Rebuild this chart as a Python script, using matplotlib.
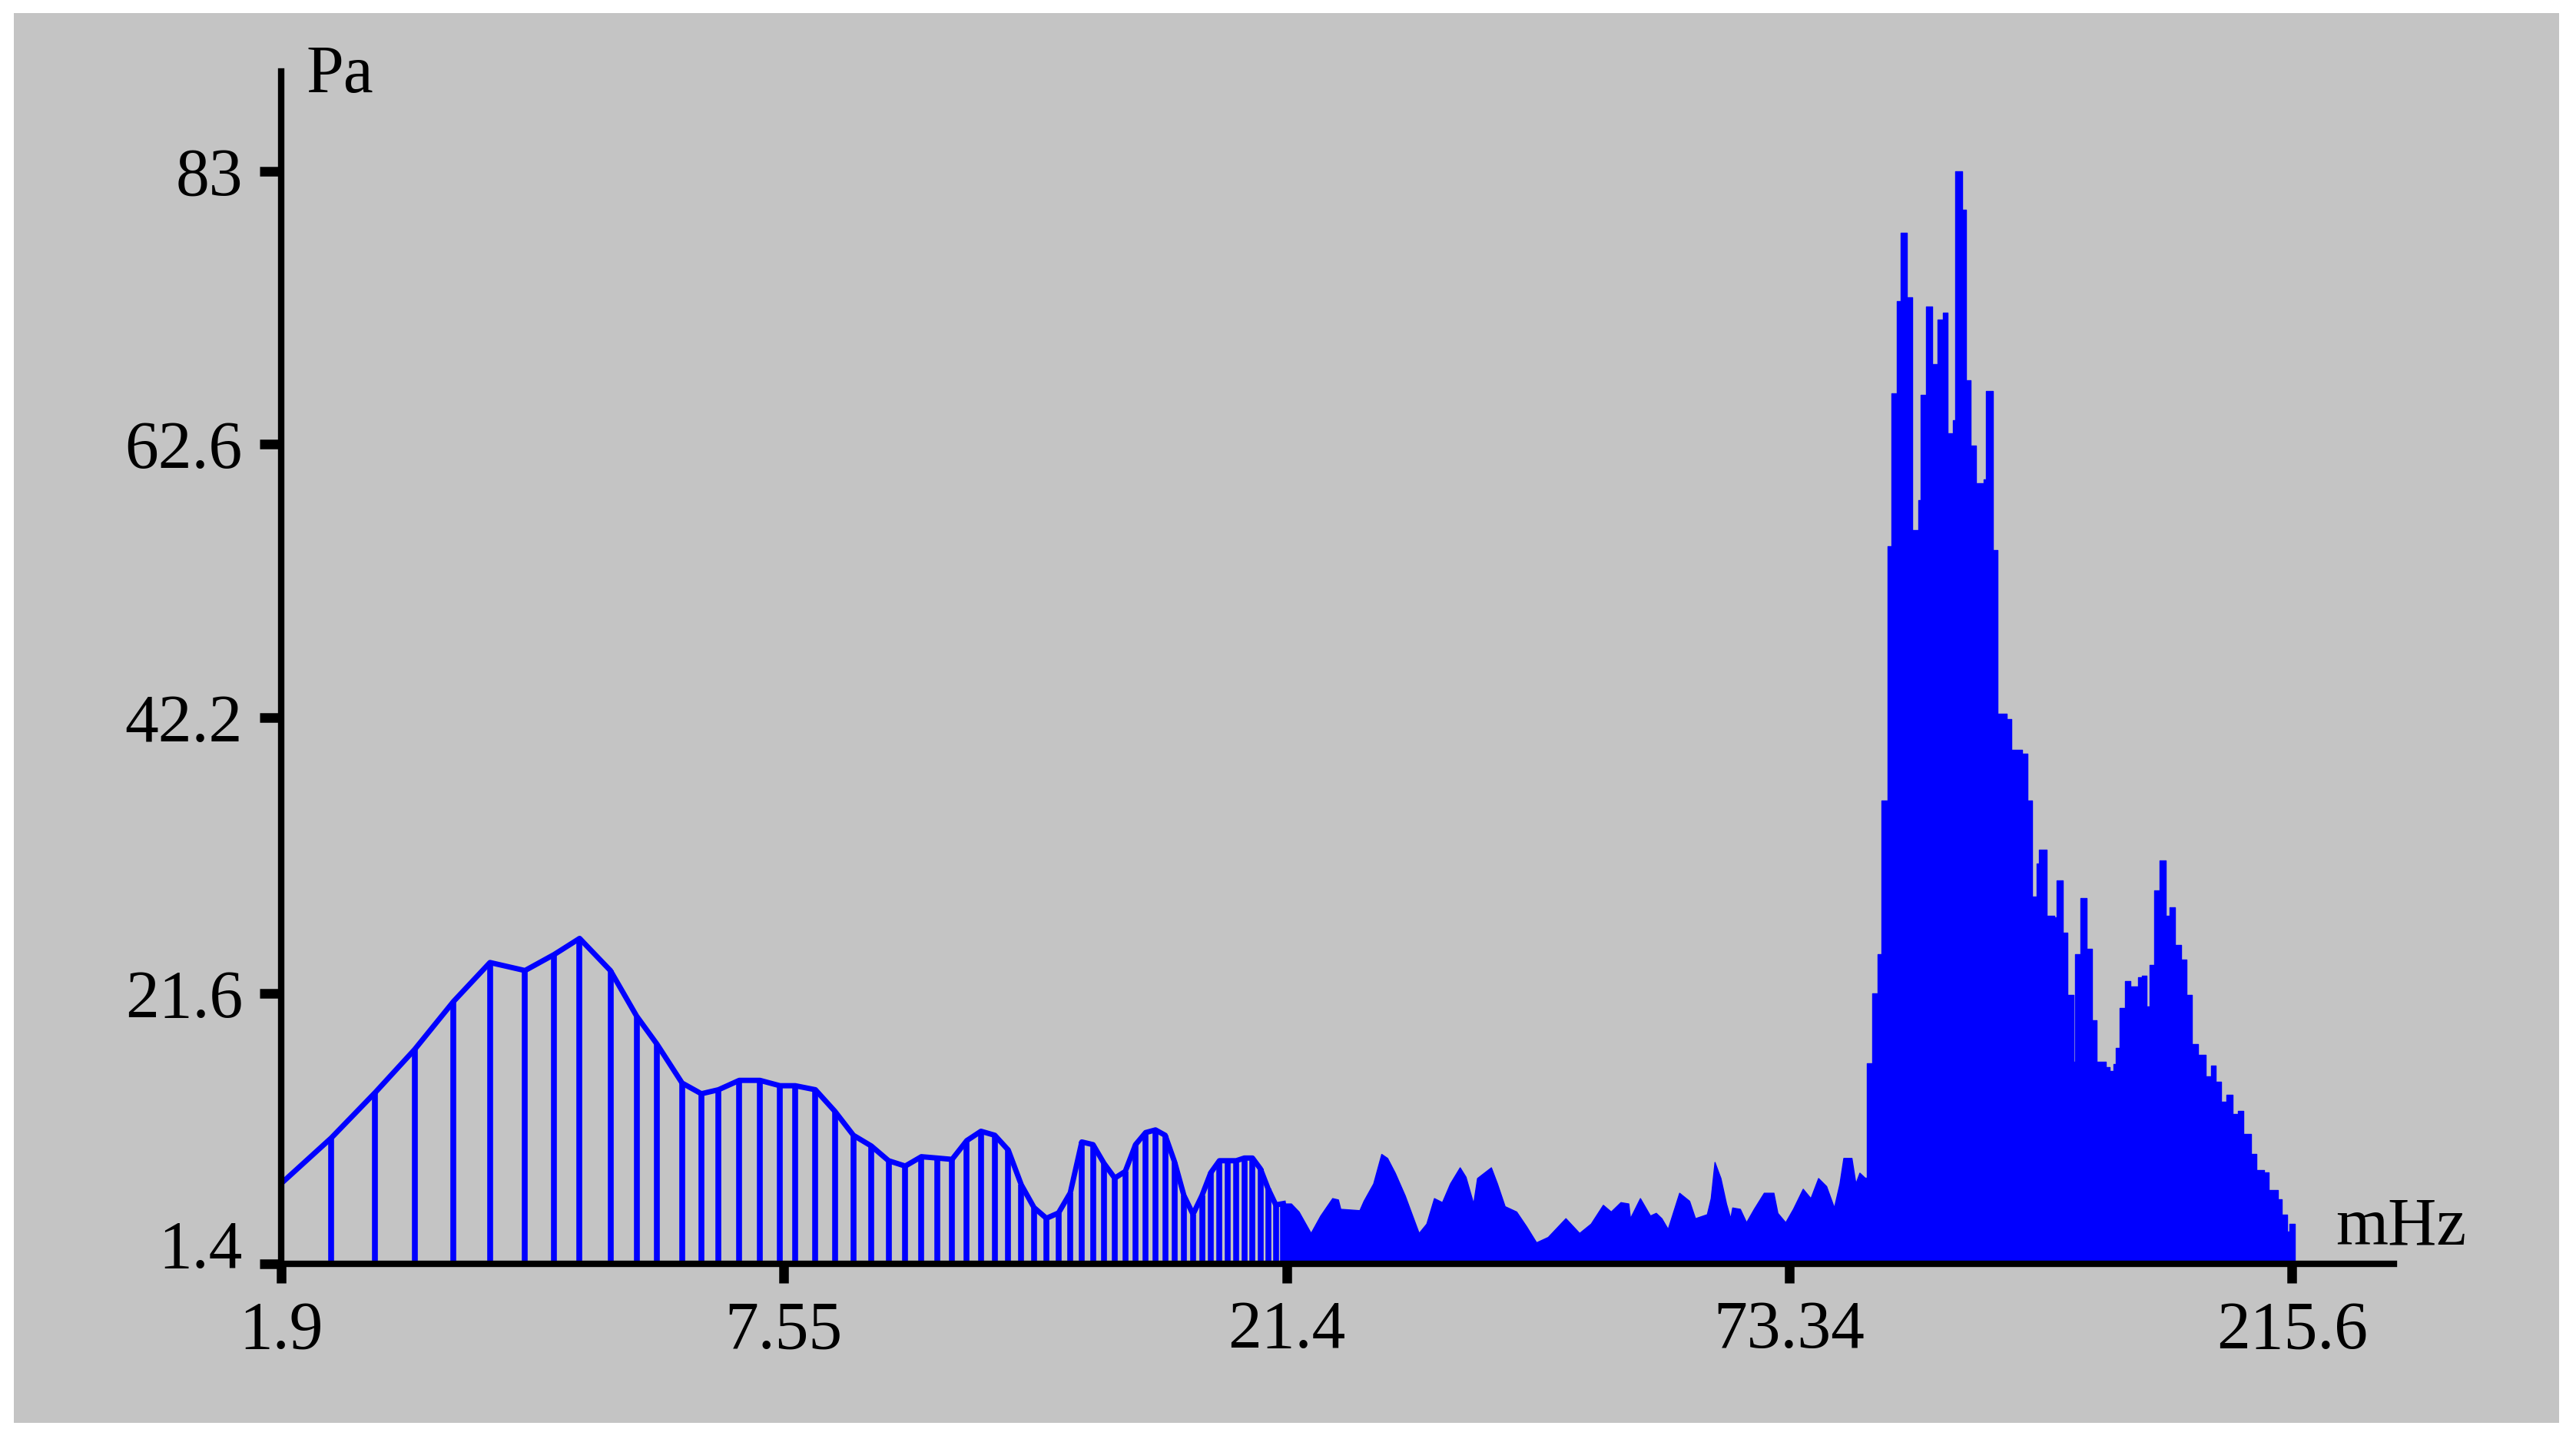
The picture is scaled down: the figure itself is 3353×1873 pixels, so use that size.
import matplotlib.pyplot as plt
import numpy as np
from matplotlib.patches import Rectangle
from matplotlib.transforms import ScaledTranslation

# Axis ticks (frequency in mHz, amplitude in Pa)
x_ticks = [1.9, 7.55, 21.4, 73.34, 215.6]
x_labels = ["1.9", "7.55", "21.4", "73.34", "215.6"]
y_ticks = [1.4, 21.6, 42.2, 62.6, 83]
y_labels = ["1.4", "21.6", "42.2", "62.6", "83"]
baseline = 1.4

# Low band: separate spectral lines (stems), envelope starts at the y axis
start_freq = 1.9
start_amp = 7.4
stem_freq = [2.18, 2.46, 2.74, 3.05, 3.37, 3.71, 4.02, 4.31, 4.69, 5.04, 5.33, 5.71,
             6.02, 6.31, 6.68, 7.07, 7.47, 7.73, 8.06, 8.39, 8.72, 9.05, 9.38, 9.71,
             10.04, 10.37, 10.70, 11.03, 11.36, 11.69, 12.02, 12.35, 12.68, 13.01,
             13.34, 13.67, 14.00, 14.33, 14.66, 14.99, 15.32, 15.65, 15.98, 16.31,
             16.64, 16.97, 17.30, 17.63, 17.96, 18.29, 18.62, 18.95, 19.28, 19.61,
             19.94, 20.27, 20.60, 20.93, 21.26]
stem_amp = [10.8, 14.2, 17.4, 21.0, 23.9, 23.3, 24.5, 25.7, 23.3, 19.9, 17.8, 14.9,
            14.1, 14.4, 15.1, 15.1, 14.7, 14.7, 14.4, 12.8, 11.0, 10.2, 9.1, 8.7,
            9.4, 9.3, 9.2, 10.6, 11.3, 11.0, 9.9, 7.3, 5.6, 4.8,
            5.2, 6.7, 10.5, 10.3, 8.9, 7.8, 8.3, 10.3, 11.2, 11.4,
            11.0, 9.0, 6.5, 5.1, 6.5, 8.2, 9.1, 9.1, 9.1, 9.3,
            9.3, 8.5, 7.0, 5.8, 5.9]

# Mid band: dense lines, drawn as a filled envelope
mid_freq = [21.26, 21.64, 22.05, 22.71, 23.25, 23.94, 24.28, 24.42, 25.59, 25.85,
            26.47, 27.00, 27.39, 27.91, 28.60, 29.59, 30.15, 30.72, 31.33, 31.95,
            32.72, 33.19, 33.82, 34.14, 35.32, 35.85, 36.53, 37.58, 38.51, 39.46,
            40.60, 42.40, 43.85, 45.11, 46.47, 47.38, 48.52, 49.46, 49.66, 50.89,
            52.16, 52.91, 53.64, 54.47, 56.02, 57.41, 58.24, 59.95, 60.52, 61.09,
            61.99, 62.84, 63.49, 63.80, 65.01, 66.01, 67.26, 68.93, 70.58, 71.27,
            72.66, 73.95, 75.52, 76.78, 78.05, 79.41, 80.74, 81.71, 82.39, 83.84,
            84.56, 85.28, 86.33]
mid_amp = [5.9, 5.9, 5.3, 3.7, 5.0, 6.3, 6.2, 5.5, 5.4, 6.1,
           7.4, 9.6, 9.3, 8.2, 6.5, 3.7, 4.4, 6.3, 6.0, 7.4,
           8.6, 7.9, 5.9, 7.8, 8.6, 7.4, 5.7, 5.3, 4.2, 3.0,
           3.4, 4.8, 3.7, 4.4, 5.8, 5.3, 6.0, 5.9, 4.8, 6.3,
           5.0, 5.2, 4.8, 4.0, 6.7, 6.1, 4.8, 5.1, 6.3, 9.0,
           7.8, 5.9, 4.8, 5.6, 5.5, 4.5, 5.5, 6.7, 6.7, 5.2,
           4.5, 5.5, 7.0, 6.3, 7.8, 7.2, 5.6, 7.4, 9.3, 9.3,
           7.4, 8.2, 7.8]

# High band: main peak, step envelope (level holds until next frequency)
peak_freq = [86.33, 86.70, 87.70, 88.72, 89.43, 90.64, 91.37, 92.43, 93.20, 94.43,
             95.52, 96.79, 97.25, 98.38, 99.68, 100.8, 102.0, 103.0, 104.2, 104.7,
             106.3, 107.2, 108.2, 109.4, 111.3, 111.8, 113.5, 114.6, 116.9, 118.2,
             120.8, 122.2, 123.4, 124.8, 125.4, 127.5, 129.6, 130.1, 131.8, 133.3,
             134.9, 135.5, 137.1, 138.9, 140.5, 141.9, 144.7, 145.9, 147.1, 147.8,
             149.0, 150.8, 152.5, 155.0, 156.3, 157.8, 158.9, 160.5, 162.3, 164.4,
             165.8, 167.7, 169.9, 171.9, 173.9, 176.2, 179.1, 181.2, 183.0, 185.1,
             187.3, 189.7, 192.2, 194.4, 197.6, 199.9, 203.2, 205.2, 209.4, 211.0,
             213.5, 214.6, 217.0]
peak_amp = [7.8, 16.4, 21.6, 24.5, 36.0, 55.0, 66.4, 73.3, 78.4, 73.6,
            56.2, 58.4, 66.3, 72.9, 68.6, 71.9, 72.4, 63.4, 64.4, 83.0,
            80.1, 67.4, 62.5, 59.7, 60.0, 66.6, 54.7, 42.5, 42.1, 39.8,
            39.5, 36.0, 28.8, 31.3, 32.3, 27.4, 27.3, 30.0, 26.1, 21.5,
            16.5, 24.5, 28.7, 24.9, 19.6, 16.5, 16.1, 15.8, 16.3, 17.5,
            20.5, 22.5, 22.1, 22.8, 22.9, 20.6, 23.7, 29.3, 31.5, 27.4,
            28.0, 25.2, 24.1, 21.5, 17.8, 17.0, 15.4, 16.2, 15.0, 13.5,
            14.0, 12.6, 12.8, 11.1, 9.6, 8.4, 8.2, 6.9, 6.2, 5.1,
            3.8, 4.4, 4.4]

blue = "#0000ff"
gray = "#c4c4c4"

# The frequency axis puts the labelled frequencies at equal spacing,
# log-interpolated in between
LT = np.log10(x_ticks)
POS = np.arange(len(x_ticks), dtype=float)


def fwd(f):
    lf = np.log10(np.maximum(np.asarray(f, dtype=float), 1e-6))
    p = np.interp(lf, LT, POS)
    p = np.where(lf < LT[0], (lf - LT[0]) / (LT[1] - LT[0]), p)
    p = np.where(lf > LT[-1], POS[-1] + (lf - LT[-1]) / (LT[-1] - LT[-2]), p)
    return p


def inv(p):
    p = np.asarray(p, dtype=float)
    lf = np.interp(p, POS, LT)
    lf = np.where(p < 0, LT[0] + p * (LT[1] - LT[0]), lf)
    lf = np.where(p > POS[-1], LT[-1] + (p - POS[-1]) * (LT[-1] - LT[-2]), lf)
    return 10 ** lf


plt.rcParams["font.family"] = ["Liberation Serif", "DejaVu Serif"]

W, H = 3353, 1873
fig = plt.figure(figsize=(W / 100, H / 100), dpi=100, facecolor="white")
fig.add_artist(Rectangle((18 / W, 1 - 1852 / H), (3331 - 18) / W, (1852 - 17) / H,
                         transform=fig.transFigure, facecolor=gray,
                         edgecolor="none", zorder=-10))

ax = fig.add_axes([366 / W, 228 / H, (3116 - 366) / W, (1780 - 228) / H])
ax.set_facecolor("none")
ax.set_xscale("function", functions=(fwd, inv))
ax.set_xlim(x_ticks[0], float(inv(4.203)))
ax.set_ylim(baseline, 90.44)

# Stems and the line through their tops
ax.vlines(stem_freq, baseline, stem_amp, color=blue, linewidth=5.5, zorder=2)
ax.plot([start_freq] + stem_freq, [start_amp] + stem_amp, color=blue,
        linewidth=5, solid_joinstyle="round", zorder=2)

# Dense part of the spectrum
ax.fill_between(mid_freq, baseline, mid_amp, color=blue, linewidth=1, zorder=2)
ax.fill_between(peak_freq, baseline, peak_amp, step="post", color=blue,
                linewidth=1, zorder=2)

# Axes styling
for side in ["top", "right"]:
    ax.spines[side].set_visible(False)
for side in ["left", "bottom"]:
    ax.spines[side].set_linewidth(6)
    ax.spines[side].set_color("black")
    ax.spines[side].set_zorder(3)

ax.set_xticks(x_ticks)
ax.set_xticklabels(x_labels)
ax.set_yticks(y_ticks)
ax.set_yticklabels(y_labels)
ax.minorticks_off()
ax.tick_params(axis="y", direction="out", length=20, width=9, pad=16,
               labelsize=63, colors="black")
ax.tick_params(axis="x", direction="out", length=18, width=9, pad=16,
               labelsize=63, colors="black")

# the lowest amplitude label sits a little above its tick
low_label = ax.yaxis.get_major_ticks()[0].label1
low_label.set_transform(low_label.get_transform()
                        + ScaledTranslation(0, 26 / 100, fig.dpi_scale_trans))

fig.text(398 / W, 1 - 120 / H, "Pa", fontsize=63, ha="left", va="baseline")
fig.text(3040 / W, 1 - 1620 / H, "mHz", fontsize=63, ha="left", va="baseline")

fig.savefig("out.png", dpi=100)
